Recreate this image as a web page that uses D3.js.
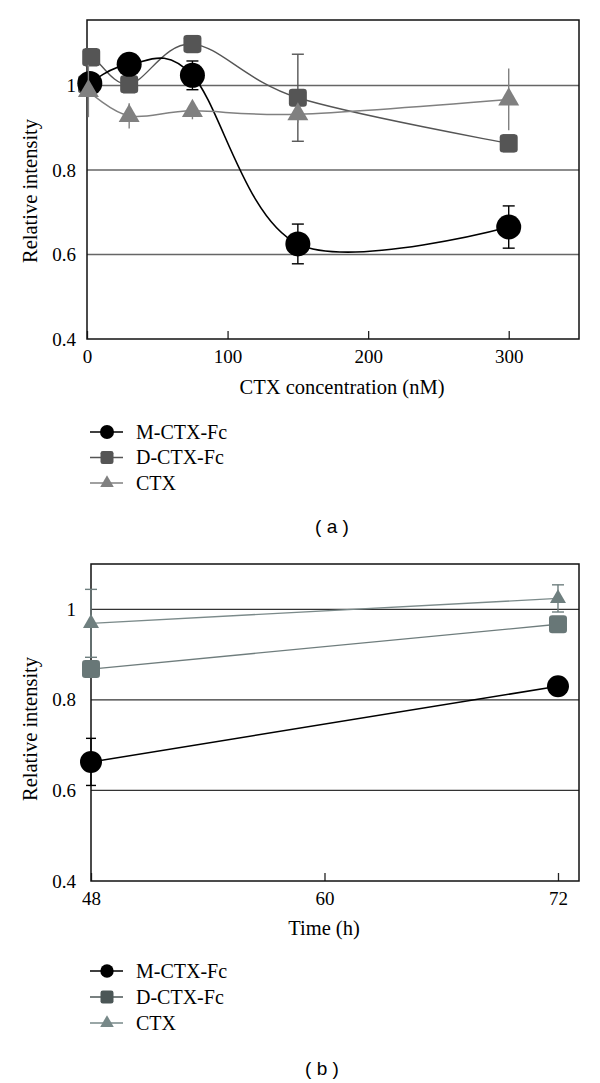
<!DOCTYPE html>
<html><head><meta charset="utf-8">
<script src="https://cdn.jsdelivr.net/npm/d3@7"></script>
<style>
html,body{margin:0;padding:0;background:#fff;}
svg{display:block;}
text{font-family:"Liberation Serif","Times New Roman",serif;fill:#000;}
</style></head>
<body><svg id="c" width="600" height="1083"></svg>
<script>
// ---------- Data: panel (a) ----------
const seriesNames = ["M-CTX-Fc", "D-CTX-Fc", "CTX"];
const concM = [2, 30, 75, 150, 300];
const valM  = [1.005, 1.05, 1.024, 0.625, 0.665];
const errM  = [0.02, 0.02, 0.034, 0.047, 0.05];
const concD = [0, 3, 30, 75, 150, 300];
const valD  = [1.003, 1.067, 1.003, 1.098, 0.971, 0.863];
const errD  = [0.02, 0.02, 0.02, 0.02, 0.103, 0.02];
const concC = [1, 30, 75, 150, 300];
const valC  = [0.987, 0.928, 0.94, 0.932, 0.967];
const errC  = [0.062, 0.03, 0.02, 0.02, 0.073];
const xTicksA = [0, 100, 200, 300];
const yTicks = [0.4, 0.6, 0.8, 1];
const gridVals = [0.6, 0.8, 1];

// ---------- Data: panel (b) ----------
const timeB = [48, 72];
const valMB = [0.663, 0.83];
const errMB = [0.052, 0];
const valDB = [0.868, 0.967];
const errDB = [0, 0];
const valCB = [0.969, 1.024];
const errCB = [0.075, 0.03];
const xTicksB = [48, 60, 72];

const svg = d3.select("#c");

function zipS(xs, ys, es){ return xs.map((x,i)=>({x, y:ys[i], e:es[i]})); }

function drawMarker(g, type, cx, cy, size, color){
  if(type==="circle"){
    g.append("circle").attr("cx",cx).attr("cy",cy).attr("r",size).attr("fill",color);
  } else if(type==="square"){
    g.append("rect").attr("x",cx-size/2).attr("y",cy-size/2).attr("width",size).attr("height",size)
      .attr("rx",size*0.18).attr("fill",color);
  } else {
    g.append("path").attr("d", d3.symbol(d3.symbolTriangle, size)()).attr("transform",`translate(${cx},${cy})`).attr("fill",color);
  }
}

function panel(opts){
  const {x, y, xTicks, xTitle, xTitleX, xTitleY, yTitleCY, labelPad, gridColor, gridW, series, curve, clipId} = opts;
  const g = svg.append("g");
  const [x0,x1] = x.range(); const [y0,y1] = y.range();
  g.append("clipPath").attr("id",clipId).append("rect")
    .attr("x",x0).attr("y",y1).attr("width",x1-x0).attr("height",y0-y1);
  // gridlines
  g.selectAll(".grid").data(gridVals).join("line")
    .attr("x1",x0).attr("x2",x1).attr("y1",d=>y(d)).attr("y2",d=>y(d))
    .attr("stroke",gridColor).attr("stroke-width",gridW);
  // x axis
  const ax = g.append("g").attr("transform",`translate(0,${y0})`)
    .call(d3.axisBottom(x).tickValues(xTicks).tickSize(-8).tickPadding(10.5).tickFormat(d3.format("d")));
  ax.select(".domain").remove();
  ax.selectAll(".tick line").attr("stroke","#222").attr("stroke-width",1.3);
  ax.selectAll(".tick text").style("font-family",'"Liberation Serif",serif').style("font-size","19px").attr("fill","#000");
  // y axis
  const ay = g.append("g").attr("transform",`translate(${x0},0)`)
    .call(d3.axisLeft(y).tickValues(yTicks).tickSize(0).tickPadding(labelPad).tickFormat(d=> d===1?"1":d3.format(".1f")(d)));
  ay.select(".domain").remove();
  ay.selectAll(".tick text").style("font-family",'"Liberation Serif",serif').style("font-size","19px").attr("fill","#000");
  // box
  g.append("rect").attr("x",x0).attr("y",y1).attr("width",x1-x0).attr("height",y0-y1)
    .attr("fill","none").attr("stroke","#111").attr("stroke-width",1.5);
  // titles
  g.append("text").attr("x",xTitleX).attr("y",xTitleY).attr("text-anchor","middle").style("font-size","20.5px").text(xTitle);
  g.append("text").attr("transform",`translate(37,${yTitleCY}) rotate(-90)`).attr("text-anchor","middle").style("font-size","20.5px").text("Relative intensity");
  // series
  series.forEach(s=>{
    const sg = g.append("g");
    const line = d3.line().x(d=>x(d.x)).y(d=>y(d.y)).curve(curve);
    sg.append("path").datum(s.data).attr("d",line).attr("fill","none")
      .attr("stroke",s.lineColor).attr("stroke-width",s.lineW).attr("clip-path",`url(#${clipId})`);
    s.data.filter(d=>d.e>0).forEach(d=>{
      const xc=x(d.x), yt=y(d.y+d.e), yb=y(d.y-d.e);
      sg.append("line").attr("x1",xc).attr("x2",xc).attr("y1",yt).attr("y2",yb).attr("stroke",s.errColor).attr("stroke-width",1.4);
      if(s.caps){
        [yt,yb].forEach(yy=>sg.append("line").attr("x1",xc-s.capW/2).attr("x2",xc+s.capW/2).attr("y1",yy).attr("y2",yy)
          .attr("stroke",s.errColor).attr("stroke-width",1.4));
      }
    });
    s.data.forEach(d=>drawMarker(sg, s.marker, x(d.x), y(d.y), s.size, s.color));
  });
}

function legend(items, topY, step){
  const g = svg.append("g");
  items.forEach((it,i)=>{
    const cy = topY + i*step;
    g.append("line").attr("x1",90).attr("x2",123).attr("y1",cy).attr("y2",cy).attr("stroke",it.lineColor).attr("stroke-width",1.6);
    drawMarker(g, it.marker, 107, cy, it.size, it.color);
    g.append("text").attr("x",136).attr("y",cy+6.5).style("font-size","20px").text(it.name);
  });
}

// ---------- Panel (a) ----------
const xA = d3.scaleLinear([0,350],[87,579]);
const yA = d3.scaleLinear([0.4,1.155],[339,20]);
panel({
  x:xA, y:yA, xTicks:xTicksA, xTitle:"CTX concentration (nM)", xTitleX:342, xTitleY:394, yTitleCY:191,
  labelPad:11, gridColor:"#666", gridW:1.4, curve:d3.curveCardinal.tension(0), clipId:"clipA",
  series:[
    {data:zipS(concD,valD,errD), marker:"square", size:18, color:"#555", lineColor:"#555", lineW:1.4, errColor:"#555", caps:true, capW:12},
    {data:zipS(concM,valM,errM), marker:"circle", size:12.5, color:"#000", lineColor:"#000", lineW:1.6, errColor:"#000", caps:true, capW:12},
    {data:zipS(concC,valC,errC), marker:"triangle", size:190, color:"#808080", lineColor:"#808080", lineW:1.5, errColor:"#808080", caps:false}
  ]
});
legend([
  {name:seriesNames[0], marker:"circle", size:7, color:"#000", lineColor:"#000"},
  {name:seriesNames[1], marker:"square", size:13, color:"#555", lineColor:"#555"},
  {name:seriesNames[2], marker:"triangle", size:80, color:"#808080", lineColor:"#808080"}
], 432, 25.5);
svg.append("text").attr("x",332).attr("y",533).attr("text-anchor","middle")
  .style("font-family",'"Liberation Sans",Arial,sans-serif').style("font-size","19px").text("( a )");

// ---------- Panel (b) ----------
const xB = d3.scaleLinear([48,73.08],[91,579]);
const yB = d3.scaleLinear([0.4,1.1],[881,564]);
panel({
  x:xB, y:yB, xTicks:xTicksB, xTitle:"Time (h)", xTitleX:324, xTitleY:935, yTitleCY:729,
  labelPad:15, gridColor:"#333", gridW:1.2, curve:d3.curveLinear, clipId:"clipB",
  series:[
    {data:zipS(timeB,valMB,errMB), marker:"circle", size:11, color:"#000", lineColor:"#000", lineW:1.5, errColor:"#000", caps:true, capW:10},
    {data:zipS(timeB,valDB,errDB), marker:"square", size:18, color:"#687777", lineColor:"#6f7d7d", lineW:1.3, errColor:"#687777", caps:true, capW:10},
    {data:zipS(timeB,valCB,errCB), marker:"triangle", size:111, color:"#6f7f7f", lineColor:"#7b8a8a", lineW:1.3, errColor:"#6f7f7f", caps:true, capW:12}
  ]
});
legend([
  {name:seriesNames[0], marker:"circle", size:6.7, color:"#000", lineColor:"#000"},
  {name:seriesNames[1], marker:"square", size:13, color:"#4b5656", lineColor:"#4b5656"},
  {name:seriesNames[2], marker:"triangle", size:80, color:"#778888", lineColor:"#778888"}
], 971, 26);
svg.append("text").attr("x",322).attr("y",1075).attr("text-anchor","middle")
  .style("font-family",'"Liberation Sans",Arial,sans-serif').style("font-size","19px").text("( b )");
</script></body></html>
